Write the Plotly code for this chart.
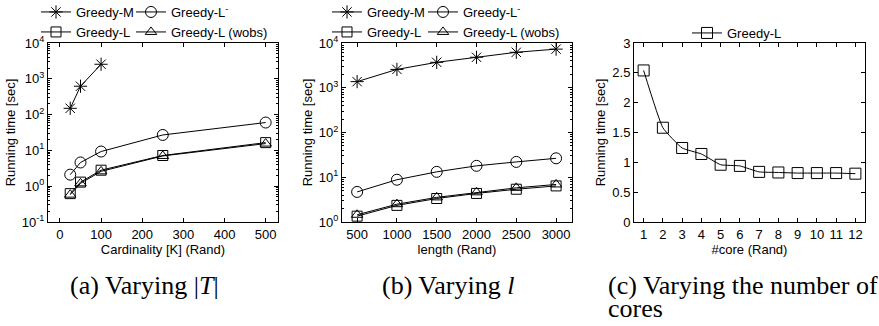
import plotly.graph_objects as go

# ---- data ----
card_x = [25, 50, 100, 250, 500]
card_greedy_m_x = [25, 50, 100]
card_greedy_m = [150, 620, 2550]
card_greedy_lminus = [2.1, 4.6, 9.3, 27, 60]
card_greedy_l = [0.62, 1.3, 2.8, 7.2, 16.5]
card_greedy_l_wobs = [0.58, 1.2, 2.6, 7.0, 15.5]

len_x = [500, 1000, 1500, 2000, 2500, 3000]
len_greedy_m = [1370, 2570, 3700, 4800, 6200, 7300]
len_greedy_lminus = [4.7, 8.8, 13.2, 18, 22, 26.5]
len_greedy_l = [1.35, 2.35, 3.35, 4.35, 5.4, 6.4]
len_greedy_l_wobs = [1.45, 2.5, 3.55, 4.6, 5.8, 6.9]

core_x = [1, 2, 3, 4, 5, 6, 7, 8, 9, 10, 11, 12]
core_greedy_l = [2.54, 1.58, 1.24, 1.14, 0.96, 0.94, 0.84, 0.83, 0.82, 0.82, 0.82, 0.81]

names = ["Greedy-M", "Greedy-L<sup>-</sup>", "Greedy-L", "Greedy-L (wobs)"]
symbols = ["asterisk-open", "circle-open", "square-open", "triangle-up-open"]
sizes = [11, 11, 10, 10]

log_a_vals = [0.1, 1, 10, 100, 1000, 10000]
log_a_text = ["10<sup>-1</sup>", "10<sup>0</sup>", "10<sup>1</sup>", "10<sup>2</sup>", "10<sup>3</sup>", "10<sup>4</sup>"]
log_b_vals = [1, 10, 100, 1000, 10000]
log_b_text = ["10<sup>0</sup>", "10<sup>1</sup>", "10<sup>2</sup>", "10<sup>3</sup>", "10<sup>4</sup>"]
core_y_vals = [0, 0.5, 1, 1.5, 2, 2.5, 3]
core_y_text = ["0", "0.5", "1", "1.5", "2", "2.5", "3"]

captions = ["(a) Varying |<i>T</i>|", "(b) Varying <i>l</i>", "(c) Varying the number of", "cores"]

W, H = 879, 326
FONT = "Liberation Sans, Arial, sans-serif"


def px(x):
    return x / W


def py(y):
    return 1 - y / H


fig = go.Figure()


def add(xv, yv, i, xa, ya, legend):
    fig.add_trace(go.Scatter(
        x=xv, y=yv, name=names[i], mode="lines+markers",
        line=dict(color="black", width=1),
        marker=dict(symbol=symbols[i], size=sizes[i], color="black",
                    line=dict(color="black", width=1)),
        xaxis=xa, yaxis=ya, legend=legend))


# panel a
add(card_greedy_m_x, card_greedy_m, 0, "x", "y", "legend")
add(card_x, card_greedy_lminus, 1, "x", "y", "legend2")
add(card_x, card_greedy_l, 2, "x", "y", "legend3")
add(card_x, card_greedy_l_wobs, 3, "x", "y", "legend4")
# panel b
add(len_x, len_greedy_m, 0, "x2", "y2", "legend5")
add(len_x, len_greedy_lminus, 1, "x2", "y2", "legend6")
add(len_x, len_greedy_l, 2, "x2", "y2", "legend7")
add(len_x, len_greedy_l_wobs, 3, "x2", "y2", "legend8")
# panel c
fig.add_trace(go.Scatter(
    x=core_x, y=core_greedy_l, name="Greedy-L", mode="lines+markers",
    line=dict(color="black", width=1, shape="spline", smoothing=0.4),
    marker=dict(symbol="square-open", size=11, color="black", line=dict(color="black", width=1)),
    xaxis="x3", yaxis="y3", legend="legend9"))

axis_common = dict(showline=True, linecolor="black", linewidth=1, mirror="allticks",
                   ticks="inside", ticklen=4, tickcolor="black", showgrid=False,
                   zeroline=False, automargin=False,
                   tickfont=dict(family=FONT, size=13, color="black"),
                   title_font=dict(family=FONT, size=13, color="black"))
minor_log = dict(ticks="inside", ticklen=2, tickcolor="black", showgrid=False, dtick="D1")

ytop, ybot = 43, 222
dom_y = [py(ybot), py(ytop)]

fig.update_layout(
    width=W, height=H, margin=dict(l=0, r=0, t=0, b=0, autoexpand=False),
    paper_bgcolor="white", plot_bgcolor="white",
    font=dict(family=FONT, size=13, color="black"),
    xaxis=dict(domain=[px(48), px(278)], range=[-29, 530], tickvals=[0, 100, 200, 300, 400, 500],
               title=dict(text="Cardinality [K] (Rand)", standoff=2), anchor="y", **axis_common),
    yaxis=dict(domain=dom_y, type="log", range=[-1, 4], tickvals=log_a_vals, ticktext=log_a_text,
               title=dict(text="Running time [sec]", standoff=3), anchor="x",
               minor=minor_log, **axis_common),
    xaxis2=dict(domain=[px(342), px(572)], range=[310, 3200], tickvals=[500, 1000, 1500, 2000, 2500, 3000],
                title=dict(text="length (Rand)", standoff=2), anchor="y2", **axis_common),
    yaxis2=dict(domain=dom_y, type="log", range=[0, 4], tickvals=log_b_vals, ticktext=log_b_text,
                title=dict(text="Running time [sec]", standoff=3), anchor="x2",
                minor=minor_log, **axis_common),
    xaxis3=dict(domain=[px(634), px(865)], range=[0.5, 12.5], tickvals=core_x,
                title=dict(text="#core (Rand)", standoff=2), anchor="y3", **axis_common),
    yaxis3=dict(domain=dom_y, range=[0, 3], tickvals=core_y_vals, ticktext=core_y_text,
                title=dict(text="Running time [sec]", standoff=3), anchor="x3", **axis_common),
    showlegend=True,
)

leg_common = dict(orientation="h", bgcolor="rgba(0,0,0,0)", font=dict(family=FONT, size=13, color="black"),
                  xanchor="left", yanchor="middle", xref="container", yref="container",
                  itemwidth=30, tracegroupgap=0)
# (text start x, row center y) for each legend entry
leg_pos = [(77, 12), (172, 12), (77, 32), (172, 32),
           (368, 12), (464, 12), (368, 32), (464, 32),
           (728, 33)]
OFF = 41
for k, (tx, ty) in enumerate(leg_pos):
    key = "legend" if k == 0 else f"legend{k + 1}"
    fig.update_layout({key: dict(x=(tx - OFF) / W, y=py(ty), **leg_common)})

cap_font = dict(family="Liberation Serif, Times New Roman, serif", size=26, color="black")
fig.add_annotation(x=px(144), y=py(302), xref="paper", yref="paper", text=captions[0],
                   showarrow=False, font=cap_font, xanchor="center", yanchor="bottom")
fig.add_annotation(x=px(448), y=py(302), xref="paper", yref="paper", text=captions[1],
                   showarrow=False, font=cap_font, xanchor="center", yanchor="bottom")
fig.add_annotation(x=px(606), y=py(302), xref="paper", yref="paper", text=captions[2],
                   showarrow=False, font=cap_font, xanchor="left", yanchor="bottom")
fig.add_annotation(x=px(606), y=py(325), xref="paper", yref="paper", text=captions[3],
                   showarrow=False, font=cap_font, xanchor="left", yanchor="bottom")

fig.write_html("out.html", config={"displayModeBar": False},
               post_script="document.body.style.margin='0px';")
